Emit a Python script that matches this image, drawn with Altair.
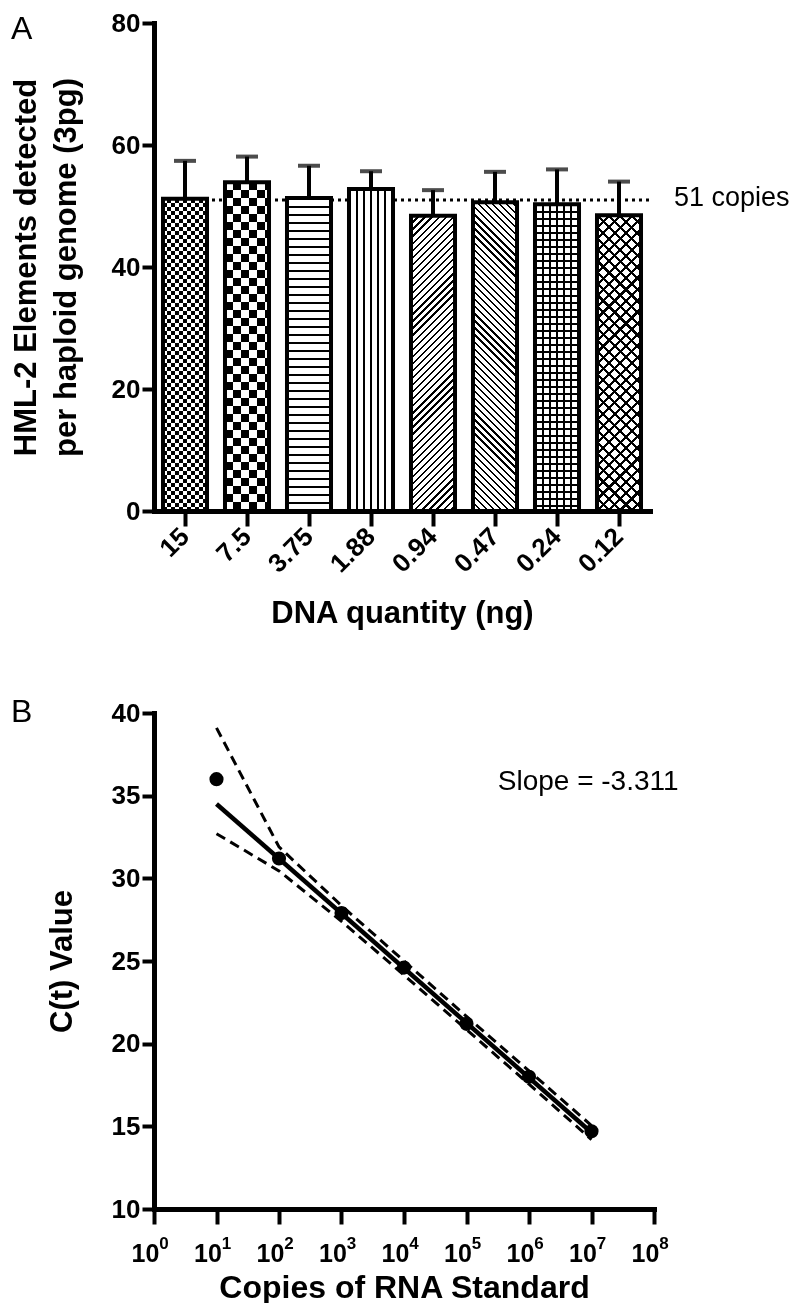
import math
import altair as alt
import pandas as pd

# ---------------- data: panel A ----------------
qty = ["15", "7.5", "3.75", "1.88", "0.94", "0.47", "0.24", "0.12"]
copies = [51.2, 53.9, 51.3, 52.8, 48.4, 50.6, 50.3, 48.5]
sd = [6.2, 4.2, 5.3, 2.9, 4.2, 5.0, 5.7, 5.5]
ref_copies = 51
ref_label = "51 copies"

# ---------------- data: panel B ----------------
rna_copies = [1e1, 1e2, 1e3, 1e4, 1e5, 1e6, 1e7]
ct = [36.0, 31.2, 27.9, 24.6, 21.2, 18.0, 14.7]
ct_upper = [39.1, 31.9, 28.35, 25.0, 21.65, 18.35, 15.05]
ct_lower = [32.7, 30.45, 27.4, 24.15, 20.85, 17.55, 14.2]
fit_x = [1e1, 1e7]
fit_ct = [34.5, 14.63]
slope_label = "Slope = -3.311"
slope_pos = [10 ** 5.5, 35.8]
x_ticks = [10 ** e for e in range(9)]
x_exp = [str(e) for e in range(9)]
ct_ticks = [10, 15, 20, 25, 30, 35, 40]
copy_ticks = [0, 20, 40, 60, 80]

FONT = "Liberation Sans, Arial, Helvetica, sans-serif"

W_A, H_A = 496, 488
W_B, H_B = 500, 496
PAD_IN, PAD_OUT = 0.29, 0.145
STEP = W_A / (len(qty) - PAD_IN + 2 * PAD_OUT)
BW = STEP * (1 - PAD_IN)
PX_PER_UNIT = H_A / 80.0

dfA = pd.DataFrame({"qty": qty, "copies": copies,
                    "upper": [c + s for c, s in zip(copies, sd)]})

# ---------- fill patterns built from linear gradients ----------
def stripe_stops(period, line, length, on, off):
    stops = []
    k = 0
    while True:
        s = k * period / length
        if s >= 1:
            break
        e = min((k * period + line) / length, 1.0)
        ns = min((k + 1) * period / length, 1.0)
        stops += [(s, on), (e, on), (e, off), (ns, off)]
        k += 1
    return [alt.GradientStop(offset=round(o, 5), color=c) for o, c in stops]


def pattern(kind, h, period, line, on, off):
    w = BW
    if kind == "h":
        x1, y1, x2, y2, L = 0, 0, 0, 1, h
    elif kind == "v":
        x1, y1, x2, y2, L = 0, 0, 1, 0, w
    else:
        r = w / h
        gy = (1 + r) / (1 + r * r)
        gx = r * gy
        L = (w + h) / math.sqrt(2)
        if kind == "/":
            x1, y1, x2, y2 = 0, 0, gx, gy
        else:
            x1, y1, x2, y2 = 0, 1, gx, 1 - gy
    return alt.LinearGradient(gradient="linear",
                              stops=stripe_stops(period, line, L, on, off),
                              x1=x1, y1=y1, x2=x2, y2=y2)


BLK, WHT, CLR = "black", "white", "rgba(255,255,255,0)"
# (kind, period, line, on, off, blend)
patterns = {
    "15": [("v", 8, 4, BLK, WHT, None), ("h", 8, 4, WHT, CLR, "difference")],
    "7.5": [("v", 16, 8, BLK, WHT, None), ("h", 16, 8, WHT, CLR, "difference")],
    "3.75": [("h", 8, 2, BLK, WHT, None)],
    "1.88": [("v", 7, 1.8, BLK, WHT, None)],
    "0.94": [("/", 5, 1.6, BLK, WHT, None)],
    "0.47": [("\\", 5, 1.6, BLK, WHT, None)],
    "0.24": [("v", 7, 1.6, BLK, WHT, None), ("h", 7, 1.6, BLK, CLR, None)],
    "0.12": [("/", 8, 2.2, BLK, WHT, None), ("\\", 8, 2.2, BLK, CLR, None)],
}

X_A = alt.X("qty:N", sort=qty, title="DNA quantity (ng)",
            scale=alt.Scale(paddingInner=PAD_IN, paddingOuter=PAD_OUT),
            axis=alt.Axis(labelAngle=315, labelAlign="right", labelBaseline="middle",
                          labelPadding=6, tickSize=15, titleY=111,
                          titleBaseline="alphabetic"))
Y_SCALE_A = alt.Scale(domain=[0, 80], nice=False)
Y_AXIS_A = alt.Axis(values=copy_ticks, tickSize=12, titleX=-119, titleY=H_A / 2,
                    titleAngle=270, titleBaseline="alphabetic", titleLineHeight=40,
                    titleAlign="center")
Y_TITLE_A = ["HML-2 Elements detected", "per haploid genome (3pg)"]


def yA(field):
    return alt.Y(f"{field}:Q", scale=Y_SCALE_A, title=Y_TITLE_A, axis=Y_AXIS_A)


layersA = []
ref_df = pd.DataFrame({"copies": [ref_copies]})
layersA.append(alt.Chart(ref_df).mark_rule(strokeDash=[3, 4], strokeWidth=3, color="black")
               .encode(y=yA("copies"), x=alt.value(9), x2=alt.value(W_A)))

for i, q in enumerate(qty):
    h = copies[i] * PX_PER_UNIT
    for kind, period, line, on, off, blend in patterns[q]:
        kw = dict(fill=pattern(kind, h, period, line, on, off), strokeWidth=0)
        if blend:
            kw["blend"] = blend
        layersA.append(alt.Chart(dfA).transform_filter(alt.datum.qty == q)
                       .mark_bar(**kw).encode(x=X_A, y=yA("copies")))

layersA.append(alt.Chart(dfA).mark_bar(fill="transparent", stroke="black", strokeWidth=4)
               .encode(x=X_A, y=yA("copies")))
layersA.append(alt.Chart(dfA).mark_rule(strokeWidth=4, color="black")
               .encode(x=X_A, y=yA("copies"), y2="upper:Q"))
layersA.append(alt.Chart(dfA).mark_tick(thickness=4, size=22, color="black")
               .encode(x=X_A, y=yA("upper")))
layersA.append(alt.Chart(ref_df).mark_text(align="left", baseline="middle", fontSize=27,
                                           font=FONT, color="black", dy=-2)
               .encode(x=alt.value(520), y=yA("copies"), text=alt.value(ref_label)))
layersA.append(alt.Chart(ref_df).mark_text(align="left", baseline="top", fontSize=32,
                                           font=FONT, color="black")
               .encode(x=alt.value(-143), y=alt.value(-9), text=alt.value("A")))

chartA = alt.layer(*layersA).properties(width=W_A, height=H_A)

# ---------------- panel B ----------------
X_B = alt.X("copies:Q", title="Copies of RNA Standard",
            scale=alt.Scale(type="log", domain=[1, 1e8], nice=False),
            axis=alt.Axis(values=x_ticks, labelExpr="'10'", labelOffset=-9,
                          labelOverlap=False, labelBaseline="alphabetic",
                          labelPadding=37, labelFontSize=25, tickSize=15,
                          labelFlush=False, titleY=88, titleBaseline="alphabetic",
                          titleFontSize=32))
Y_B = alt.Y("ct:Q", title="C(t) Value", scale=alt.Scale(domain=[10, 40], nice=False),
            axis=alt.Axis(values=ct_ticks, tickSize=12, titleX=-83, titleY=H_B / 2,
                          titleAngle=270, titleBaseline="alphabetic", titleAlign="center"))

df_pts = pd.DataFrame({"copies": rna_copies, "ct": ct})
df_up = pd.DataFrame({"copies": rna_copies, "ct": ct_upper})
df_lo = pd.DataFrame({"copies": rna_copies, "ct": ct_lower})
df_fit = pd.DataFrame({"copies": fit_x, "ct": fit_ct})
df_exp = pd.DataFrame({"copies": x_ticks, "exp": x_exp})
df_slope = pd.DataFrame({"copies": [slope_pos[0]], "ct": [slope_pos[1]], "t": [slope_label]})

layersB = [
    alt.Chart(df_up).mark_line(strokeDash=[10, 6], strokeWidth=3, color="black")
    .encode(x=X_B, y=Y_B),
    alt.Chart(df_lo).mark_line(strokeDash=[10, 6], strokeWidth=3, color="black")
    .encode(x=X_B, y=Y_B),
    alt.Chart(df_fit).mark_line(strokeWidth=4.5, color="black").encode(x=X_B, y=Y_B),
    alt.Chart(df_pts).mark_circle(size=200, color="black", opacity=1).encode(x=X_B, y=Y_B),
    alt.Chart(df_slope).mark_text(align="left", baseline="middle", fontSize=28, font=FONT,
                                  color="black").encode(x=X_B, y=Y_B, text="t:N"),
    alt.Chart(df_exp).mark_text(align="center", baseline="alphabetic", fontSize=17,
                                fontWeight="bold", font=FONT, color="black", dx=10)
    .encode(x=X_B, y=alt.value(H_B + 40), text="exp:N"),
    alt.Chart(df_slope).mark_text(align="left", baseline="top", fontSize=32, font=FONT,
                                  color="black")
    .encode(x=alt.value(-143), y=alt.value(-16), text=alt.value("B")),
]
chartB = alt.layer(*layersB).properties(width=W_B, height=H_B)

chart = (alt.vconcat(chartA, chartB, spacing=68)
         .properties(padding={"left": 2, "top": 2, "right": 0, "bottom": 0},
                     background="white")
         .configure_view(strokeWidth=0)
         .configure_axis(domainColor="black", domainWidth=5, domainCap="square",
                         tickColor="black", tickWidth=4, grid=False,
                         labelFont=FONT, labelFontSize=26, labelFontWeight="bold",
                         labelColor="black", titleFont=FONT, titleFontSize=31,
                         titleFontWeight="bold", titleColor="black"))

chart.save("out.html", embed_options={"renderer": "svg", "actions": False})
